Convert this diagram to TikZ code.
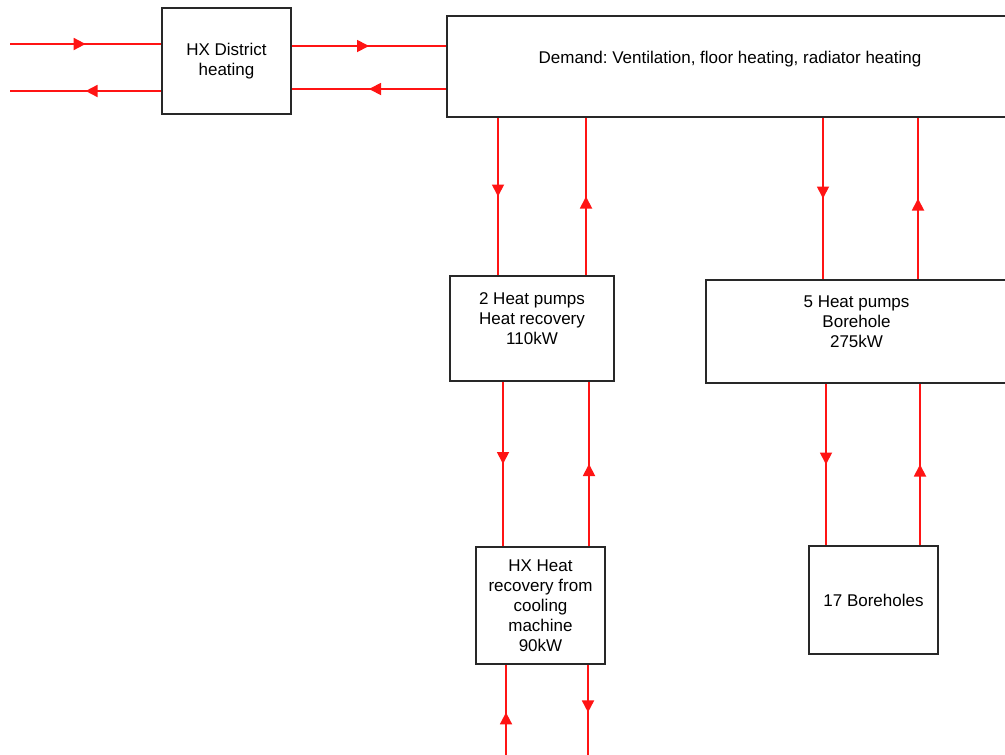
\documentclass[tikz,border=0pt]{standalone}
\usepackage{fontspec}
\setmainfont{Liberation Sans}
\usetikzlibrary{arrows.meta,decorations.markings}
\frenchspacing

\definecolor{pipered}{RGB}{255,20,20}
\definecolor{boxline}{RGB}{40,40,40}

\tikzset{
    unit/.style={rectangle, draw=boxline, line width=1.6pt, fill=white, align=center,
        font=\fontsize{17}{20}\selectfont},
    raised/.style={text depth=19pt},
    pipe/.style={draw=pipered, line width=1.8pt,
        postaction={decorate, decoration={markings,
            mark=at position 0.5 with {\arrow[pipered]{Triangle[length=12pt,width=12pt]}}}}}
}

\begin{document}
\begin{tikzpicture}[x=1pt, y=-1pt]

        \useasboundingbox (0,0) rectangle (1005,755);

        % The units
        \node[unit, minimum width=129, minimum height=106] (hx) at (226.5,61) {HX District\\heating};
        \node[unit, raised, minimum width=566, minimum height=101] (dem) at (730,66.5) {Demand: Ventilation, floor heating, radiator heating};
        \node[unit, raised, minimum width=164, minimum height=105] (hp2) at (532,328.5) {2 Heat pumps\\Heat recovery\\110kW};
        \node[unit, raised, minimum width=301, minimum height=103] (hp5) at (856.5,331.5) {5 Heat pumps\\Borehole\\275kW};
        \node[unit, minimum width=129, minimum height=117] (hxr) at (540.5,605.5) {HX Heat\\recovery from\\cooling\\machine\\90kW};
        \node[unit, minimum width=129, minimum height=108] (bh) at (873.5,600) {17 Boreholes};

        % Free ends of the pipes
        \coordinate (in1) at (10,44);
        \coordinate (out1) at (10,91);
        \coordinate (b1) at (506,760);
        \coordinate (b2) at (588,760);

        % District heating side
        \draw[pipe] (in1) -- (in1 -| hx.west);
        \draw[pipe] (hx.west |- out1) -- (out1);
        \draw[pipe] ([yshift=15]hx.east) -- ([yshift=15]hx.east -| dem.west);
        \draw[pipe] ([yshift=-28]hx.east -| dem.west) -- ([yshift=-28]hx.east);

        % Heat recovery branch
        \draw[pipe] ([xshift=-34]hp2.north |- dem.south) -- ([xshift=-34]hp2.north);
        \draw[pipe] ([xshift=54]hp2.north) -- ([xshift=54]hp2.north |- dem.south);
        \draw[pipe] ([xshift=-29]hp2.south) -- ([xshift=-29]hp2.south |- hxr.north);
        \draw[pipe] ([xshift=57]hp2.south |- hxr.north) -- ([xshift=57]hp2.south);
        \draw[pipe] (b1) -- (b1 |- hxr.south);
        \draw[pipe] (hxr.south -| b2) -- (b2);

        % Borehole branch
        \draw[pipe] ([xshift=-33.5]hp5.north |- dem.south) -- ([xshift=-33.5]hp5.north);
        \draw[pipe] ([xshift=61.5]hp5.north) -- ([xshift=61.5]hp5.north |- dem.south);
        \draw[pipe] ([xshift=-47.5]bh.north |- hp5.south) -- ([xshift=-47.5]bh.north);
        \draw[pipe] ([xshift=46.5]bh.north) -- ([xshift=46.5]bh.north |- hp5.south);

    \end{tikzpicture}
\end{document}
